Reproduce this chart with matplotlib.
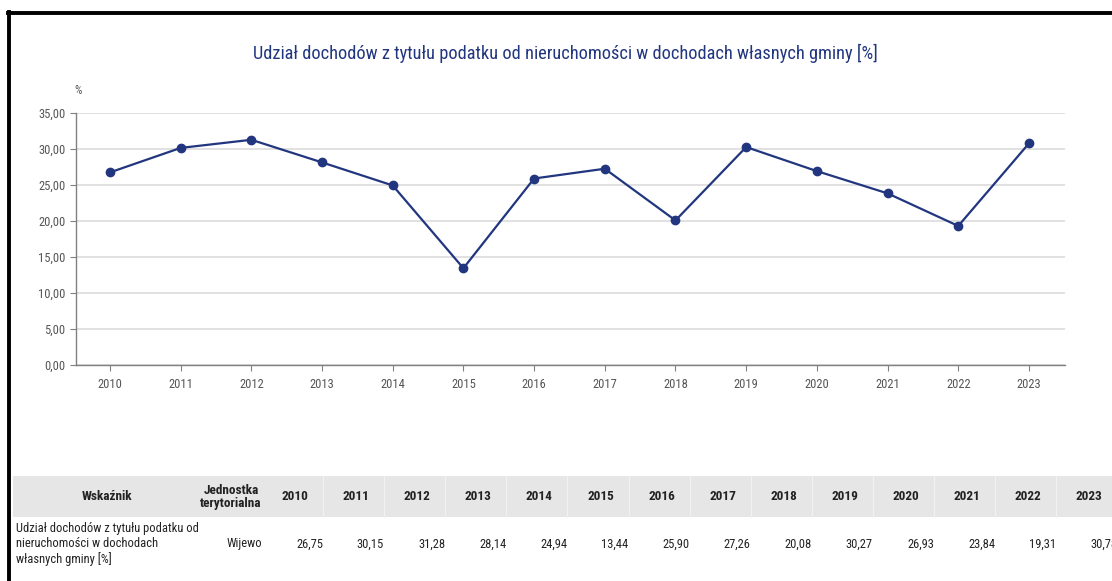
import matplotlib.pyplot as plt
from matplotlib.lines import Line2D
from matplotlib.patches import Rectangle
from matplotlib.ticker import FuncFormatter

years = [2010, 2011, 2012, 2013, 2014, 2015, 2016, 2017, 2018, 2019, 2020, 2021, 2022, 2023]
values = [26.75, 30.15, 31.28, 28.14, 24.94, 13.44, 25.90, 27.26, 20.08, 30.27, 26.93, 23.84, 19.31, 30.78]
title = "Udział dochodów z tytułu podatku od nieruchomości w dochodach własnych gminy [%]"
row_label = "Udział dochodów z tytułu podatku od\nnieruchomości w dochodach\nwłasnych gminy [%]"
unit_name = "Wijewo"

plt.rcParams['font.family'] = ['Roboto Condensed', 'Liberation Sans', 'DejaVu Sans']

W, H = 1112, 581
fig = plt.figure(figsize=(W / 100, H / 100), dpi=100)

def fx(x):
    return x / W

def fy(y):
    return 1 - y / H

navy = '#22367f'

# axes area (pixels)
ax = fig.add_axes([fx(76), fy(365), fx(1065) - fx(76), fy(113) - fy(365)])
ax.plot(years, values, color=navy, lw=1.6, marker='o', ms=6, zorder=3)
ax.set_xlim(2009.52, 2023.51)
ax.set_ylim(0, 35)
ax.set_yticks(range(0, 36, 5))
ax.set_xticks(years)
ax.yaxis.set_major_formatter(FuncFormatter(lambda v, p: f"{v:.2f}".replace('.', ',')))
ax.grid(axis='y', color='#dedede', lw=1.3)
ax.set_axisbelow(True)
for s in ['top', 'right']:
    ax.spines[s].set_visible(False)
for s in ['left', 'bottom']:
    ax.spines[s].set_color('#808080')
    ax.spines[s].set_linewidth(1.0)
ax.tick_params(colors='#808080', labelcolor='#555555', labelsize=9, length=4)
ax.tick_params(axis='x', pad=5)

fig.text(fx(565), fy(53), title, ha='center', va='center', fontsize=13.2, color=navy)
fig.text(fx(78), fy(90), '%', ha='center', va='center', fontsize=8.5, color='#555555')

# black frame (left and top edges of the screenshot)
fig.add_artist(Line2D([fx(9), fx(9)], [fy(12), 0], color='black', lw=2.8))
fig.add_artist(Line2D([fx(8), 1], [fy(12.5), fy(12.5)], color='black', lw=2.8))

# table
fig.add_artist(Rectangle((fx(13), fy(517)), 1 - fx(13), fy(476) - fy(517),
                         transform=fig.transFigure, color='#e6e6e6', lw=0))
col_right = [323 + 61.1 * i for i in range(len(years))]
for xr in col_right[:-1]:
    fig.add_artist(Line2D([fx(xr), fx(xr)], [fy(517), fy(476)], color='#f2f2f2', lw=0.8))

hdr = dict(ha='center', va='center', fontsize=9.5, fontweight='bold', color='#222222')
fig.text(fx(107), fy(497), 'Wskaźnik', **hdr)
fig.text(fx(231), fy(497), 'Jednostka\nterytorialna', linespacing=1.1, **hdr)
for i, yr in enumerate(years):
    fig.text(fx(col_right[i] - 28), fy(497), str(yr), **hdr)

cell = dict(va='center', fontsize=9, color='#222222')
fig.text(fx(16), fy(544), row_label, ha='left', linespacing=1.2, **cell)
fig.text(fx(262), fy(544), unit_name, ha='right', **cell)
for i, v in enumerate(values):
    fig.text(fx(col_right[i]), fy(544), f"{v:.2f}".replace('.', ','), ha='right', **cell)

fig.savefig('out.png', dpi=100)
